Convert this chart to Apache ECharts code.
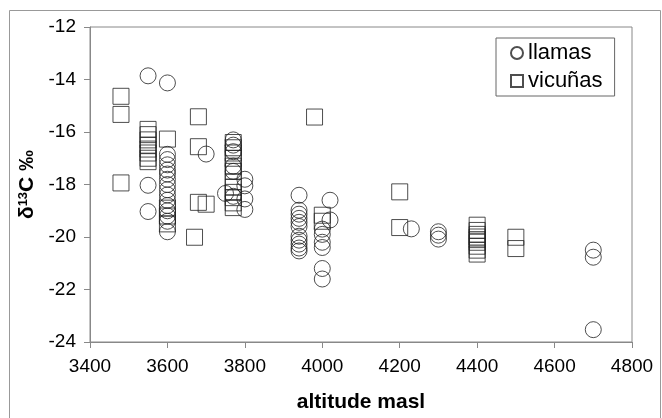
<!DOCTYPE html>
<html>
<head>
<meta charset="utf-8">
<script src="https://cdn.jsdelivr.net/npm/echarts@6/dist/echarts.min.js"></script>
<style>
  html, body { margin: 0; padding: 0; background: #fff; }
  #chart { width: 662px; height: 418px; }
</style>
</head>
<body>
<div id="chart"></div>
<script>
// llamas: altitude (masl) and d13C (per mil)
var llamaAlt = [
  3550, 3550, 3550,
  3600, 3600, 3600, 3600, 3600, 3600, 3600, 3600, 3600, 3600, 3600, 3600, 3600, 3600, 3600, 3600,
  3700,
  3770, 3770, 3770, 3770, 3770, 3770,
  3750,
  3800, 3800, 3800, 3800,
  3940, 3940, 3940, 3940, 3940, 3940, 3940, 3940, 3940, 3940, 3940,
  4000, 4000, 4000, 4000, 4000, 4000,
  4020, 4020,
  4230,
  4300, 4300, 4300,
  4700, 4700, 4700
];
var llamaD13C = [
  -13.86, -18.03, -19.03,
  -14.13, -16.85, -17.05, -17.25, -17.45, -17.6, -17.8, -18.0, -18.2, -18.4, -18.6, -18.8, -19.0, -19.2, -19.4, -19.8,
  -16.84,
  -16.3, -16.5, -16.75, -17.3, -17.5, -18.45,
  -18.34,
  -17.8, -18.05, -18.55, -18.95,
  -18.41, -18.98, -19.13, -19.29, -19.44, -19.6, -19.97, -20.12, -20.27, -20.42, -20.53,
  -19.7, -19.9, -20.2, -20.4, -21.2, -21.6,
  -18.6, -19.35,
  -19.69,
  -19.8, -19.93, -20.08,
  -20.5, -20.77, -23.53
];

// vicunas
var vicunaAlt = [
  3480, 3480, 3480,
  3550, 3550, 3550, 3550, 3550, 3550, 3550, 3550,
  3600, 3600, 3600, 3600,
  3680, 3680, 3680,
  3700,
  3670,
  3770, 3770, 3770, 3770, 3770, 3770, 3770, 3770, 3770, 3770, 3770, 3770,
  3980,
  4000, 4000,
  4200, 4200,
  4400, 4400, 4400, 4400, 4400, 4400, 4400, 4400, 4400,
  4500, 4500
];
var vicunaD13C = [
  -14.64, -15.33, -17.94,
  -15.9, -16.1, -16.3, -16.5, -16.65, -16.8, -17.0, -17.13,
  -16.27, -18.9, -19.2, -19.5,
  -15.42, -16.56, -18.68,
  -18.75,
  -20.01,
  -16.4, -16.6, -16.8, -17.0, -17.3, -17.5, -17.9, -18.1, -18.3, -18.5, -18.7, -18.88,
  -15.43,
  -19.17, -19.4,
  -18.28, -19.64,
  -19.55, -19.75, -19.9, -20.0, -20.1, -20.2, -20.35, -20.5, -20.65,
  -20.01, -20.44
];

var seriesNames = ['llamas', 'vicuñas'];

function pairs(xs, ys) {
  return xs.map(function (x, i) { return [x, ys[i]]; });
}

var font = '"Liberation Sans", Arial, sans-serif';
var markStyle = { color: 'rgba(0,0,0,0)', borderColor: '#222', borderWidth: 1 };

var option = {
  animation: false,
  backgroundColor: '#fff',
  textStyle: { fontFamily: font },
  graphic: [{
    type: 'rect',
    shape: { x: 9.5, y: 10.5, width: 651, height: 420 },
    style: { fill: 'none', stroke: '#999', lineWidth: 1 },
    silent: true
  }],
  grid: {
    left: 90, right: 30, top: 27, bottom: 73,
    show: true, borderColor: '#888', borderWidth: 1
  },
  legend: {
    left: 496, top: 38,
    orient: 'vertical',
    itemWidth: 12, itemHeight: 12,
    itemGap: 6,
    padding: [4, 12, 4, 14],
    borderColor: '#666', borderWidth: 1,
    textStyle: { fontSize: 22, color: '#000', fontFamily: font },
    data: seriesNames
  },
  xAxis: {
    type: 'value',
    min: 3400, max: 4800, interval: 200,
    name: 'altitude masl',
    nameLocation: 'middle',
    nameGap: 50,
    nameTextStyle: { fontSize: 21, fontWeight: 'bold', color: '#000' },
    axisLine: { lineStyle: { color: '#888' } },
    axisTick: { inside: false, length: 6, lineStyle: { color: '#888' } },
    axisLabel: {
      fontSize: 19, color: '#000', margin: 15,
      formatter: function (v) { return String(v); }
    },
    splitLine: { show: false }
  },
  yAxis: {
    type: 'value',
    min: -24, max: -12, interval: 2,
    name: '{b|δ}{s|13}{b|C ‰}',
    nameLocation: 'middle',
    nameRotate: 90,
    nameGap: 50,
    nameTextStyle: {
      rich: {
        b: { fontSize: 21, fontWeight: 'bold', color: '#000', fontFamily: font },
        s: { fontSize: 13, fontWeight: 'bold', color: '#000', fontFamily: font, verticalAlign: 'top', padding: [0, 0, 8, 0] }
      }
    },
    axisLine: { show: true, lineStyle: { color: '#888' } },
    axisTick: { show: true, inside: false, length: 6, lineStyle: { color: '#888' } },
    axisLabel: { fontSize: 19, color: '#000', margin: 14 },
    splitLine: { show: false }
  },
  series: [
    {
      name: seriesNames[0],
      type: 'scatter',
      symbol: 'circle',
      symbolSize: 16,
      itemStyle: markStyle,
      data: pairs(llamaAlt, llamaD13C)
    },
    {
      name: seriesNames[1],
      type: 'scatter',
      symbol: 'rect',
      symbolSize: 16,
      itemStyle: markStyle,
      data: pairs(vicunaAlt, vicunaD13C)
    }
  ]
};

var chart = echarts.init(document.getElementById('chart'), null, { renderer: 'canvas' });
chart.setOption(option);
</script>
</body>
</html>
